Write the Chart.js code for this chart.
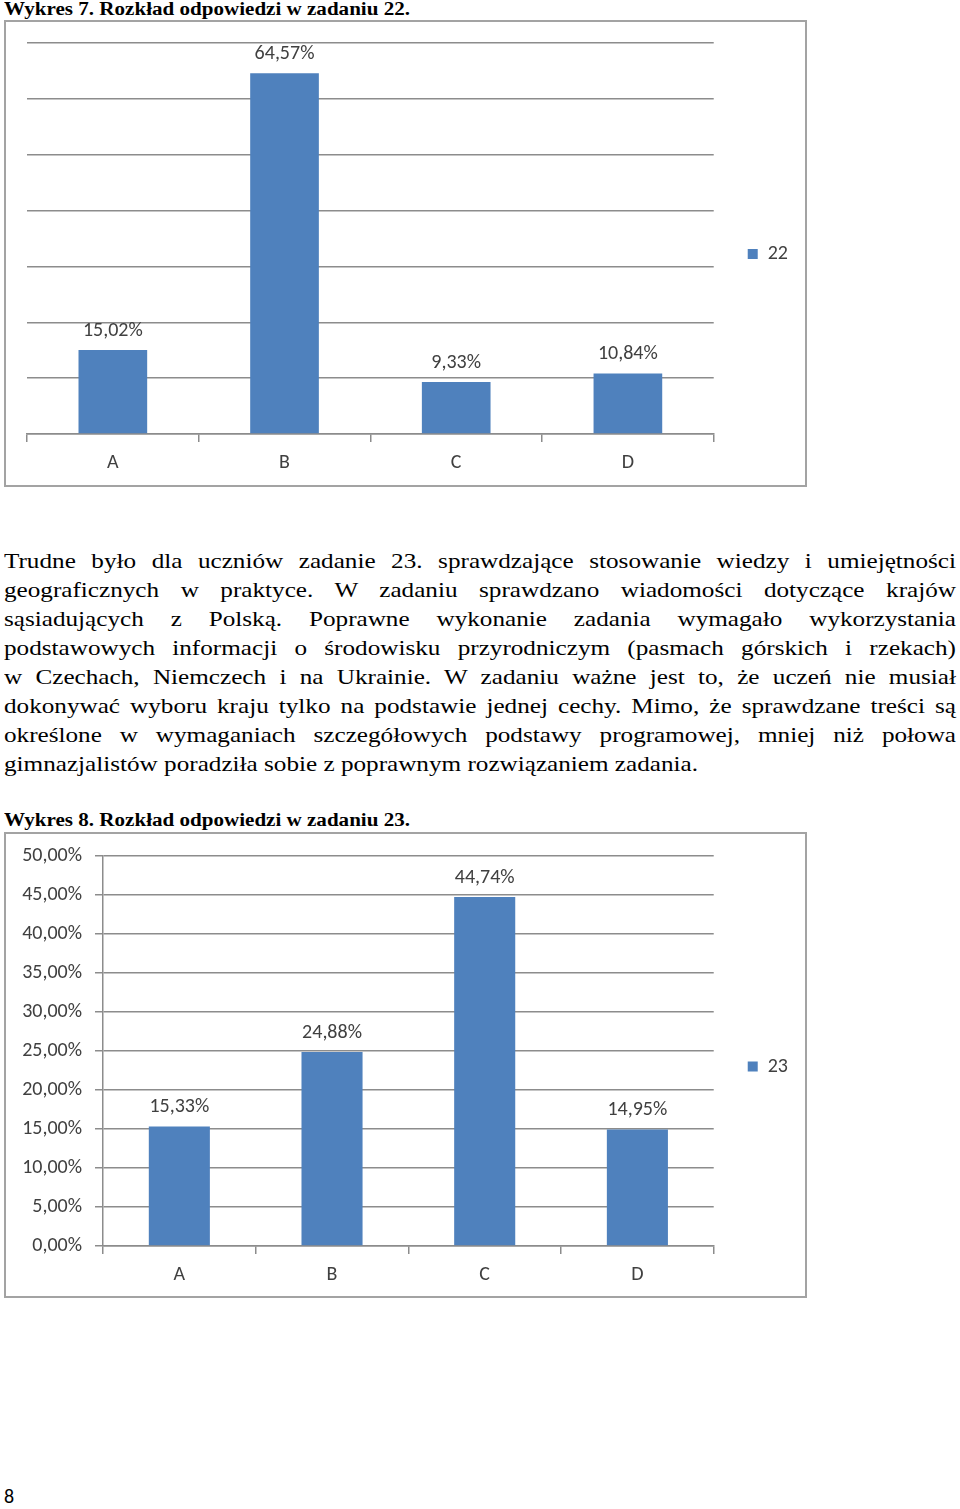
<!DOCTYPE html>
<html>
<head>
<meta charset="utf-8">
<script src="https://cdn.jsdelivr.net/npm/chart.js@4.4.1/dist/chart.umd.min.js"></script>
<style>
  body { margin: 0; background: #fff; width: 960px; height: 1509px; position: relative; overflow: hidden; }
  .cap { position: absolute; left: 4px; font-family: "Liberation Serif", serif; font-weight: bold; font-size: 18px; line-height: 20px; white-space: nowrap; transform-origin: 0 50%; }
  .box { position: absolute; left: 4px; width: 803px; border: 2px solid #a3a3a3; box-sizing: border-box; }
  .box canvas { position: absolute; left: 0; top: 0; }
  #txt { position: absolute; left: 4px; top: 547px; font-family: "Liberation Serif", serif; font-size: 21px; line-height: 29px; transform-origin: 0 0; color: #000; }
  #txt div { white-space: nowrap; text-align: justify; text-align-last: justify; }
  #txt div.last { text-align-last: left; }
  #pg { position: absolute; left: 4px; top: 1484px; font-family: Carlito, "Open Sans", sans-serif; font-size: 20px; }
</style>
</head>
<body>
<div class="cap" id="cap1" style="top:-1px">Wykres 7. Rozkład odpowiedzi w zadaniu 22.</div>
<div class="box" style="top:20px;height:467px"><canvas id="c22" width="799" height="463"></canvas></div>

<div id="txt">
  <div>Trudne było dla uczniów zadanie 23. sprawdzające stosowanie wiedzy i umiejętności</div>
  <div>geograficznych w praktyce. W zadaniu sprawdzano wiadomości dotyczące krajów</div>
  <div>sąsiadujących z Polską. Poprawne wykonanie zadania wymagało wykorzystania</div>
  <div>podstawowych informacji o środowisku przyrodniczym (pasmach górskich i rzekach)</div>
  <div>w Czechach, Niemczech i na Ukrainie. W zadaniu ważne jest to, że uczeń nie musiał</div>
  <div>dokonywać wyboru kraju tylko na podstawie jednej cechy. Mimo, że sprawdzane treści są</div>
  <div>określone w wymaganiach szczegółowych podstawy programowej, mniej niż połowa</div>
  <div class="last">gimnazjalistów poradziła sobie z poprawnym rozwiązaniem zadania.</div>
</div>

<div class="cap" id="cap2" style="top:810px">Wykres 8. Rozkład odpowiedzi w zadaniu 23.</div>
<div class="box" style="top:832px;height:466px"><canvas id="c23" width="799" height="462"></canvas></div>

<div id="pg">8</div>

<script>
// dane
const answers = ["A", "B", "C", "D"];
const zad22 = [15.02, 64.57, 9.33, 10.84];
const zad23 = [15.33, 24.88, 44.74, 14.95];
const yTicks23 = [0, 5, 10, 15, 20, 25, 30, 35, 40, 45, 50];

const blue = "#4f81bd";
const gridGray = "#8c8c8c";
const txtGray = "#404040";
const chartFont = { family: "Carlito, 'Open Sans', sans-serif", size: 20 };

const pct = (v) => v.toFixed(2).replace(".", ",") + "%";

// the scanned page is stretched sideways: scale text so the last line is as long as in print
(function fitText() {
  const txt = document.getElementById("txt");
  let maxW = 0, lastW = 0;
  Array.from(txt.children).forEach((d) => {
    const s = document.createElement("span");
    s.textContent = d.textContent;
    d.textContent = "";
    d.appendChild(s);
    const w = s.getBoundingClientRect().width;
    if (d.classList.contains("last")) lastW = w; else maxW = Math.max(maxW, w);
    d.textContent = s.textContent;
  });
  const k = Math.min(694 / lastW, 952 / (maxW + 1));
  txt.style.width = (952 / k) + "px";
  txt.style.transform = "scaleX(" + k + ")";

  ["cap1", "cap2"].forEach((id) => {
    const c = document.getElementById(id);
    c.style.transform = "scaleX(" + (406 / c.getBoundingClientRect().width) + ")";
  });
})();

const barLabels = {
  id: "barLabels",
  afterDatasetsDraw(chart) {
    const ctx = chart.ctx;
    const values = chart.data.datasets[0].data;
    ctx.save();
    ctx.font = "20px Carlito, 'Open Sans'";
    ctx.fillStyle = txtGray;
    ctx.textAlign = "center";
    ctx.textBaseline = "middle";
    chart.getDatasetMeta(0).data.forEach((bar, i) => {
      ctx.fillText(pct(values[i]), bar.x, bar.y - 19);
    });
    ctx.restore();
  },
};

function xAxis() {
  return {
    grid: { offset: true, drawOnChartArea: false, drawTicks: true, tickLength: 8, color: gridGray, lineWidth: 1.5 },
    border: { display: true, color: gridGray, width: 1.5 },
    ticks: { font: chartFont, color: txtGray, padding: 9 },
    afterFit: (axis) => { axis.height = 40; },
  };
}

function legendOpts() {
  return {
    position: "right",
    // empty title with negative padding just nudges the legend item up a little
    title: { display: true, text: "", font: { size: 1 }, padding: { top: 0, bottom: -10 } },
    labels: { boxWidth: 10, boxHeight: 10, font: chartFont, color: txtGray, padding: 34 },
  };
}

new Chart(document.getElementById("c22"), {
  type: "bar",
  data: {
    labels: answers,
    datasets: [{ label: "22", data: zad22, backgroundColor: blue, categoryPercentage: 1, barPercentage: 0.4 }],
  },
  options: {
    responsive: false,
    animation: false,
    devicePixelRatio: 1,
    layout: { padding: { left: 21, top: 21, right: 7, bottom: 11 } },
    scales: {
      x: xAxis(),
      y: {
        min: 0, max: 70,
        ticks: { display: false, stepSize: 10 },
        grid: { color: gridGray, lineWidth: 1.5, drawTicks: false },
        border: { display: false },
      },
    },
    plugins: { legend: legendOpts(), tooltip: { enabled: false } },
  },
  plugins: [barLabels],
});

new Chart(document.getElementById("c23"), {
  type: "bar",
  data: {
    labels: answers,
    datasets: [{ label: "23", data: zad23, backgroundColor: blue, categoryPercentage: 1, barPercentage: 0.4 }],
  },
  options: {
    responsive: false,
    animation: false,
    devicePixelRatio: 1,
    layout: { padding: { left: 0, top: 22, right: 7, bottom: 10 } },
    scales: {
      x: xAxis(),
      y: {
        min: yTicks23[0], max: yTicks23[yTicks23.length - 1],
        afterBuildTicks: (axis) => { axis.ticks = yTicks23.map((v) => ({ value: v })); },
        afterFit: (axis) => { axis.width = 97; axis.paddingTop = 0; axis.paddingBottom = 0; },
        ticks: { callback: (v) => pct(v), font: chartFont, color: txtGray, padding: 13 },
        grid: { color: gridGray, lineWidth: 1.5, tickLength: 8 },
        border: { display: true, color: gridGray, width: 1.5 },
      },
    },
    plugins: { legend: legendOpts(), tooltip: { enabled: false } },
  },
  plugins: [barLabels],
});
</script>
</body>
</html>
